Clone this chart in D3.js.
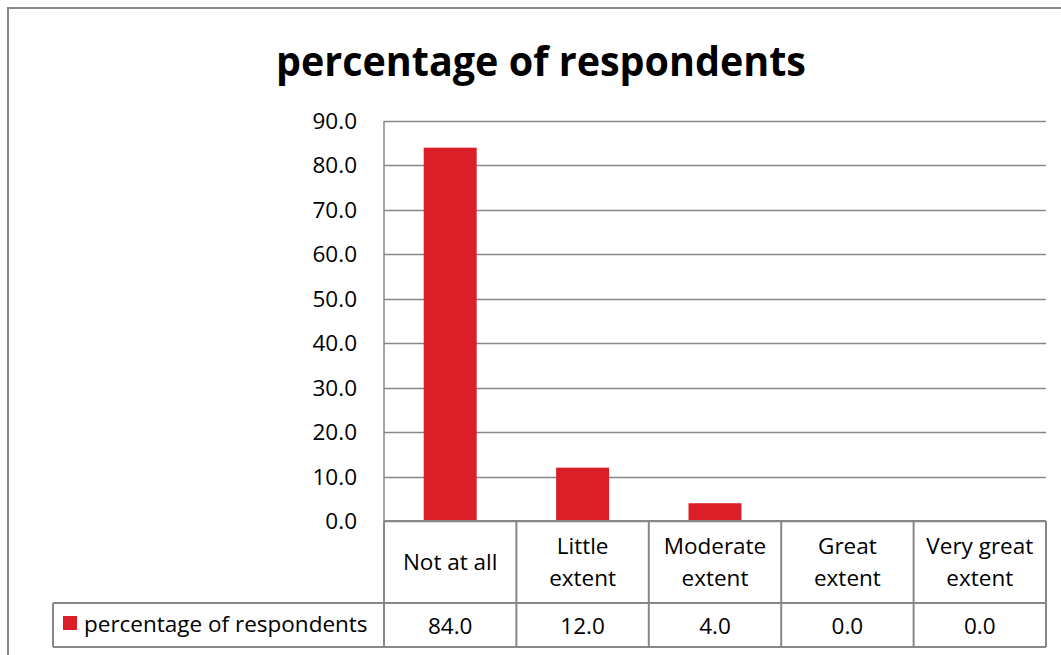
<!DOCTYPE html>
<html>
<head>
<meta charset="utf-8">
<script src="https://cdn.jsdelivr.net/npm/d3@7"></script>
<style>
  body { margin: 0; background: #fff; }
  text { font-family: "Open Sans", Lato, sans-serif; fill: #000; }
</style>
</head>
<body>
<script>
// data
var categories = ["Not at all", "Little extent", "Moderate extent", "Great extent", "Very great extent"];
var catLines = [["Not at all"], ["Little", "extent"], ["Moderate", "extent"], ["Great", "extent"], ["Very great", "extent"]];
var values = [84.0, 12.0, 4.0, 0.0, 0.0];
var yTicks = [0, 10, 20, 30, 40, 50, 60, 70, 80, 90];
var seriesName = "percentage of respondents";

var width = 1061, height = 655;
var plotLeft = 384, plotRight = 1046, plotTop = 121, plotBottom = 521;
var headerBottom = 603, rowBottom = 647, legendLeft = 53;
var gridColor = "#878787", barColor = "#da1f28";
var fs = "22.5px";

var svg = d3.select("body").append("svg")
  .attr("width", width)
  .attr("height", height);

// outer chart frame (runs off the right/bottom edge)
svg.append("rect")
  .attr("x", 8).attr("y", 8)
  .attr("width", 1100).attr("height", 700)
  .attr("fill", "none")
  .attr("stroke", gridColor)
  .attr("stroke-width", 2);

// title
svg.append("text")
  .attr("x", 541).attr("y", 76)
  .attr("text-anchor", "middle")
  .style("font-size", "42px")
  .style("font-weight", "bold")
  .attr("textLength", 530)
  .attr("lengthAdjust", "spacingAndGlyphs")
  .text(seriesName);

var x = d3.scaleBand()
  .domain(categories)
  .range([plotLeft, plotRight])
  .paddingInner(0)
  .paddingOuter(0);

var y = d3.scaleLinear()
  .domain([0, 90])
  .range([plotBottom, plotTop]);

// gridlines
svg.append("g")
  .selectAll("line")
  .data(yTicks)
  .enter().append("line")
  .attr("x1", plotLeft).attr("x2", plotRight)
  .attr("y1", function(d) { return Math.round(y(d)) + 0.5; })
  .attr("y2", function(d) { return Math.round(y(d)) + 0.5; })
  .attr("stroke", gridColor)
  .attr("stroke-width", 1.5);

// y-axis line
svg.append("line")
  .attr("x1", plotLeft).attr("x2", plotLeft)
  .attr("y1", plotTop).attr("y2", plotBottom)
  .attr("stroke", gridColor).attr("stroke-width", 1.5);

// y tick labels
svg.append("g")
  .selectAll("text")
  .data(yTicks)
  .enter().append("text")
  .attr("x", 357)
  .attr("y", function(d) { return y(d) + 8; })
  .attr("text-anchor", "end")
  .style("font-size", fs)
  .text(function(d) { return d.toFixed(1); });

// bars
var barW = x.bandwidth() * 0.4;
svg.append("g")
  .selectAll("rect")
  .data(values)
  .enter().append("rect")
  .attr("x", function(d, i) { return x(categories[i]) + (x.bandwidth() - barW) / 2; })
  .attr("width", barW)
  .attr("y", function(d) { return y(d); })
  .attr("height", function(d) { return plotBottom - y(d); })
  .attr("fill", barColor);

// data table grid
var table = svg.append("g")
  .attr("stroke", gridColor)
  .attr("stroke-width", 2)
  .attr("fill", "none");

table.append("line")
  .attr("x1", plotLeft).attr("x2", plotRight)
  .attr("y1", plotBottom).attr("y2", plotBottom);
table.append("line")
  .attr("x1", legendLeft).attr("x2", plotRight)
  .attr("y1", headerBottom).attr("y2", headerBottom);
table.append("line")
  .attr("x1", legendLeft).attr("x2", plotRight)
  .attr("y1", rowBottom).attr("y2", rowBottom);
table.append("line")
  .attr("x1", legendLeft).attr("x2", legendLeft)
  .attr("y1", headerBottom).attr("y2", rowBottom);

var edges = categories.map(function(c) { return x(c); }).concat([plotRight]);
table.selectAll(".vline")
  .data(edges)
  .enter().append("line")
  .attr("class", "vline")
  .attr("x1", function(d) { return d; }).attr("x2", function(d) { return d; })
  .attr("y1", plotBottom).attr("y2", rowBottom);

// category header labels
var headers = svg.append("g")
  .selectAll("text")
  .data(catLines)
  .enter().append("text")
  .attr("text-anchor", "middle")
  .style("font-size", fs);

headers.each(function(lines, i) {
  var cx = x(categories[i]) + x.bandwidth() / 2;
  var startY = lines.length === 1 ? 570 : 554;
  d3.select(this).selectAll("tspan")
    .data(lines)
    .enter().append("tspan")
    .attr("x", cx)
    .attr("y", function(d, j) { return startY + j * 32; })
    .text(function(d) { return d; });
});

// value row
svg.append("g")
  .selectAll("text")
  .data(values)
  .enter().append("text")
  .attr("x", function(d, i) { return x(categories[i]) + x.bandwidth() / 2; })
  .attr("y", 634)
  .attr("text-anchor", "middle")
  .style("font-size", fs)
  .text(function(d) { return d.toFixed(1); });

// legend key in the table
svg.append("rect")
  .attr("x", 63).attr("y", 616)
  .attr("width", 14).attr("height", 14)
  .attr("fill", barColor);
svg.append("text")
  .attr("x", 84).attr("y", 632)
  .style("font-size", fs)
  .text(seriesName);
</script>
</body>
</html>
